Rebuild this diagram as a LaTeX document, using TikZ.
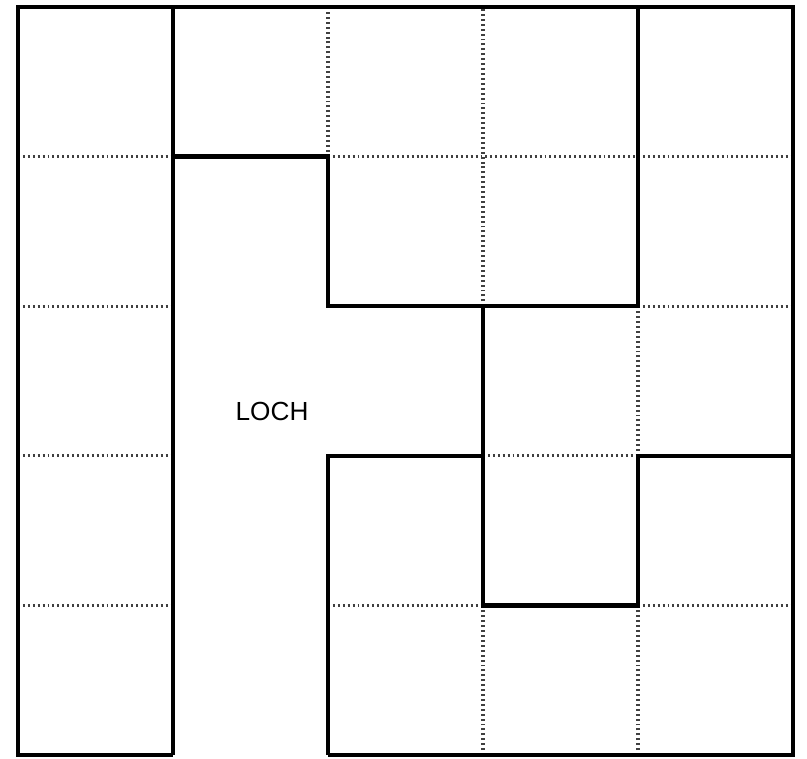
\documentclass[tikz,border=0pt]{standalone}
\usepackage{fontspec}
\setmainfont{Liberation Sans}
\usetikzlibrary{positioning}
\tikzset{
wall/.style={draw=black,line width=2.6pt,line join=miter},
cellline/.style={draw=black!75,line width=1.8pt,dash pattern=on 1.1pt off 1.7pt},
holelabel/.style={font=\fontsize{14.9}{17}\selectfont,inner sep=0pt}
}
\begin{document}
\begin{tikzpicture}[x=3.1cm,y=2.992cm]
\useasboundingbox (-0.1161,-0.0201) rectangle (5.0903,5.0468);
% dotted cell lines
\draw[cellline](0,4)--(1,4);
\draw[cellline](2,4)--(5,4);
\draw[cellline](0,3)--(1,3);
\draw[cellline](4,3)--(5,3);
\draw[cellline](0,2)--(1,2);
\draw[cellline](3,2)--(4,2);
\draw[cellline](0,1)--(1,1);
\draw[cellline](2,1)--(3,1);
\draw[cellline](4,1)--(5,1);
\draw[cellline](2,4)--(2,5);
\draw[cellline](3,3)--(3,5);
\draw[cellline](3,0)--(3,1);
\draw[cellline](4,2)--(4,3);
\draw[cellline](4,0)--(4,1);
% thick walls
\draw[wall](1,0)--(0,0)--(0,5)--(5,5)--(5,0)--(2,0);
\draw[wall](1,0)--(1,5);
\draw[wall](1,4)--(2,4)--(2,3)--(4,3)--(4,5);
\draw[wall](3,3)--(3,1)--(4,1)--(4,2)--(5,2);
\draw[wall](3,2)--(2,2)--(2,0);
\node[holelabel](loch) at (1.639,2.293){LOCH};
\end{tikzpicture}
\end{document}
